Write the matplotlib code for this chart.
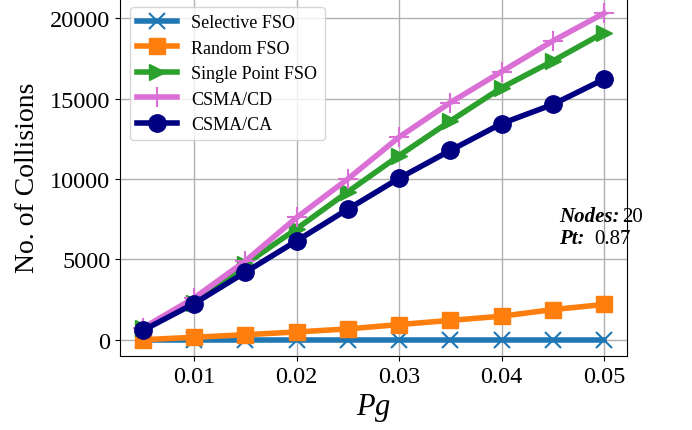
import matplotlib
matplotlib.use('Agg')
import matplotlib.pyplot as plt

plt.rcParams['font.family'] = ['Liberation Serif', 'DejaVu Serif']
plt.rcParams['mathtext.fontset'] = 'custom'
plt.rcParams['mathtext.it'] = 'Liberation Serif:italic'

# data
pg = [0.005, 0.01, 0.015, 0.02, 0.025, 0.03, 0.035, 0.04, 0.045, 0.05]
selective_fso = [0, 0, 0, 0, 0, 0, 0, 0, 0, 0]
random_fso = [0, 150, 310, 480, 670, 940, 1200, 1460, 1870, 2190]
single_point_fso = [700, 2300, 4700, 6900, 9200, 11450, 13600, 15670, 17330, 19100]
csma_cd = [730, 2600, 4900, 7600, 10000, 12600, 14750, 16670, 18580, 20300]
csma_ca = [580, 2250, 4200, 6150, 8120, 10040, 11770, 13440, 14630, 16200]

fig = plt.figure(figsize=(6.92, 4.31), dpi=100)
ax = fig.add_axes([120 / 692, 74 / 431, 507 / 692, 359 / 431])

lw = 4
ax.plot(pg, selective_fso, color='#1f77b4', marker='x', markersize=12,
        markeredgewidth=1.5, linewidth=lw, label='Selective FSO')
ax.plot(pg, random_fso, color='#ff7f0e', marker='s', markersize=11,
        linewidth=lw, label='Random FSO')
ax.plot(pg, single_point_fso, color='#2ca02c', marker='>', markersize=12,
        linewidth=lw, label='Single Point FSO')
ax.plot(pg, csma_cd, color='orchid', marker='+', markersize=14,
        markeredgewidth=1.5, linewidth=lw, label='CSMA/CD')
ax.plot(pg, csma_ca, color='navy', marker='o', markersize=12.5,
        linewidth=lw, label='CSMA/CA')

ax.set_xticks([0.01, 0.02, 0.03, 0.04, 0.05])
ax.set_yticks([0, 5000, 10000, 15000, 20000])
ax.tick_params(labelsize=17.5)
ax.grid(True, color='#b0b0b0', linewidth=1)
ax.set_axisbelow(True)

ax.set_xlabel('$Pg$', fontsize=22, labelpad=3)
ax.set_ylabel('No. of Collisions', fontsize=20, labelpad=7)

ax.legend(loc='upper left', fontsize=13, handlelength=2.2,
          borderaxespad=0.55, labelspacing=0.47, handletextpad=0.8)

t1 = ax.text(0.0456, 7375, 'Nodes:', fontsize=15, fontweight='bold',
             fontstyle='italic')
ax.annotate('20', xy=(1, 0), xycoords=t1, xytext=(2, 0),
            textcoords='offset points', fontsize=15, va='bottom')
t2 = ax.text(0.0456, 6000, 'Pt:', fontsize=15, fontweight='bold',
             fontstyle='italic')
ax.annotate('0.87', xy=(1, 0), xycoords=t2, xytext=(7, 0),
            textcoords='offset points', fontsize=15, va='bottom')

fig.savefig('out.png', dpi=100)
